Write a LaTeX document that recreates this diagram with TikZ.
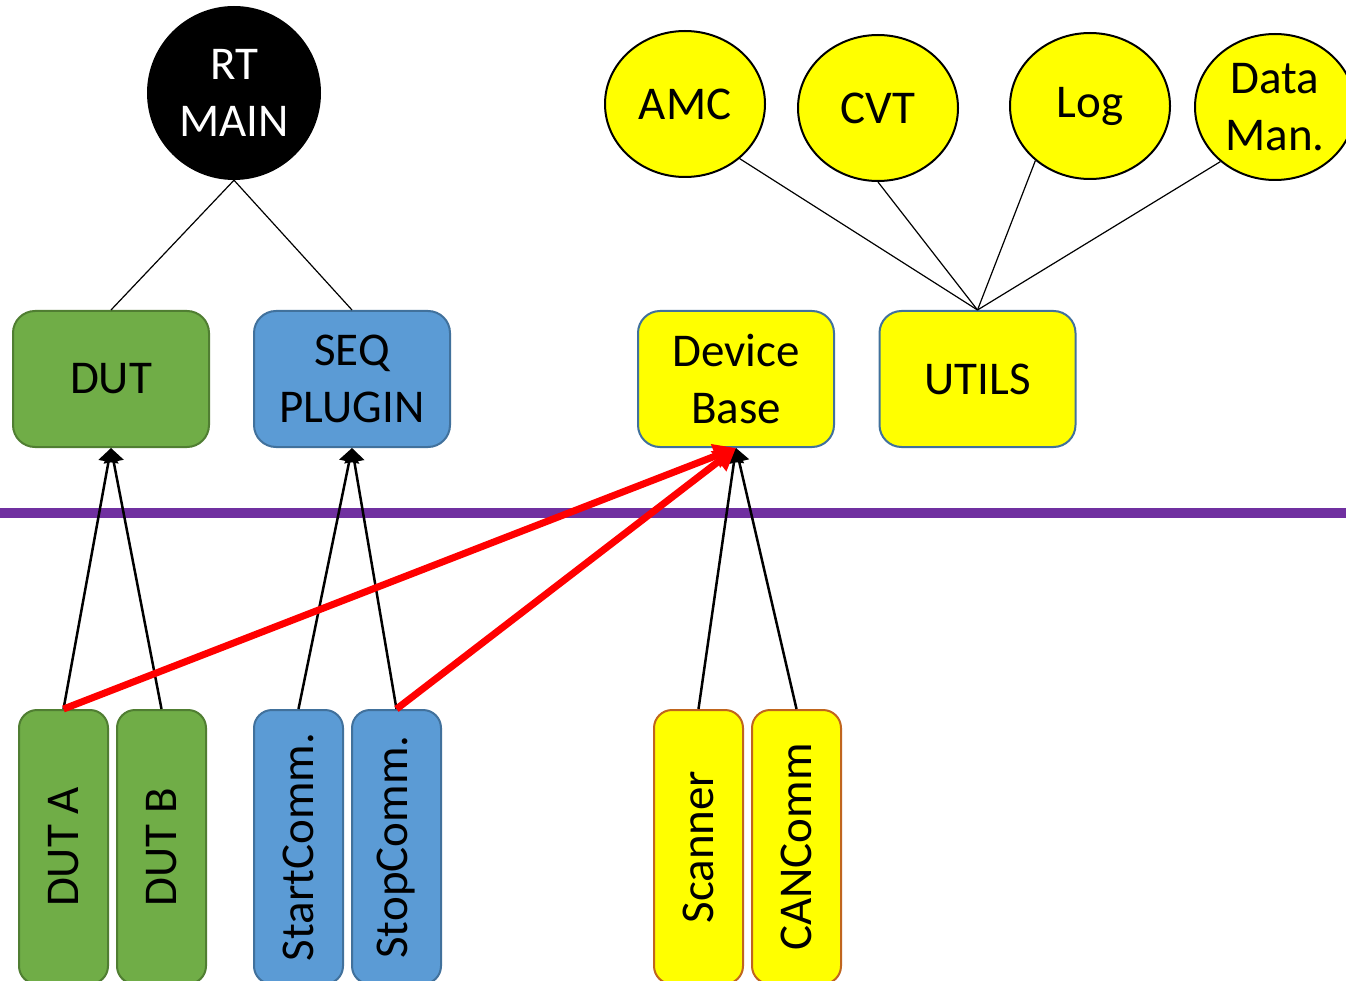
\documentclass[tikz,border=0pt]{standalone}
\usepackage{fontspec}
\setmainfont{Carlito}
\usetikzlibrary{shapes.geometric,arrows.meta}
\definecolor{dutfill}{HTML}{70AD47}
\definecolor{dutline}{HTML}{507E32}
\definecolor{seqfill}{HTML}{5B9BD5}
\definecolor{seqline}{HTML}{41719C}
\definecolor{yel}{HTML}{FFFF00}
\definecolor{devline}{HTML}{C0651E}
\definecolor{divider}{HTML}{7030A0}
\definecolor{redarrow}{HTML}{FF0000}
\tikzset{
  bigtext/.style={font=\fontsize{47}{57}\selectfont, align=center},
  topbox/.style={bigtext, rounded corners=22pt, line width=2pt,
    minimum width=196pt, minimum height=136pt, inner sep=0pt},
  tallbox/.style={bigtext, rounded corners=18pt, line width=2pt,
    minimum width=89pt, minimum height=274pt, inner sep=0pt},
  greenbox/.style={fill=dutfill, draw=dutline},
  bluebox/.style={fill=seqfill, draw=seqline},
  yellowbox/.style={fill=yel, draw=seqline},
  yellowtall/.style={fill=yel, draw=devline},
  util/.style={ellipse, bigtext, fill=yel, draw=black, line width=2pt,
    minimum width=160pt, minimum height=146pt, inner sep=0pt},
  thin/.style={draw=black, line width=1.2pt},
  uparrow/.style={draw=black, line width=2.5pt, -{Triangle[length=14pt,width=20pt]}},
  redlink/.style={draw=redarrow, line width=7pt, -{Triangle[length=22pt,width=24pt]}}
}
\begin{document}
\begin{tikzpicture}[x=1pt,y=-1pt]
\clip (0,0) rectangle (1346,981);
\fill[white] (0,0) rectangle (1346,981);

% layer divider
\draw[divider, line width=10pt] (0,513) coordinate (divL) -- (1346,513) coordinate (divR);

% top level
\node[circle, fill=black, minimum size=174pt, inner sep=0pt, bigtext, text=white]
  (rt) at (234,93) {RT\\MAIN};

% utility ellipses
\node[util] (amc) at (685,104) {AMC};
\node[util] (cvt) at (878,108) {CVT};
\node[util] (log) at (1090,106) {Log};
\node[util] (data) at (1275,107) {Data\\Man.};

% library boxes
\node[topbox, greenbox]  (dut)    at (111,379)   {DUT};
\node[topbox, bluebox]   (seq)    at (352,379)   {SEQ\\PLUGIN};
\node[topbox, yellowbox] (device) at (736,379)   {Device\\Base};
\node[topbox, yellowbox] (utils)  at (977.5,379) {UTILS};

% implementations
\node[tallbox, greenbox]   (duta)    at (63.5,847)  {\rotatebox{90}{DUT A}};
\node[tallbox, greenbox]   (dutb)    at (161.5,847) {\rotatebox{90}{DUT B}};
\node[tallbox, bluebox]    (start)   at (298.5,847) {\rotatebox{90}{StartComm.}};
\node[tallbox, bluebox]    (stop)    at (396.5,847) {\rotatebox{90}{StopComm.}};
\node[tallbox, yellowtall] (scanner) at (698.5,847) {\rotatebox{90}{Scanner}};
\node[tallbox, yellowtall] (can)     at (796.5,847) {\rotatebox{90}{CANComm}};

% hierarchy lines
\draw[thin] (rt.south) -- (dut.north);
\draw[thin] (rt.south) -- (seq.north);
\draw[thin] (utils.north) -- (amc.315);
\draw[thin] (utils.north) -- (cvt.south);
\draw[thin] (utils.north) -- (log.225);
\draw[thin] (utils.north) -- (data.225);

% inheritance arrows
\draw[uparrow] (duta.north) -- (dut.south);
\draw[uparrow] (dutb.north) -- (dut.south);
\draw[uparrow] (start.north) -- (seq.south);
\draw[uparrow] (stop.north) -- (seq.south);
\draw[uparrow] (scanner.north) -- (device.south);
\draw[uparrow] (can.north) -- (device.south);

% device dependencies
\draw[redlink] (duta.north) -- (device.south);
\draw[redlink] (stop.north) -- (device.south);
\end{tikzpicture}
\end{document}
